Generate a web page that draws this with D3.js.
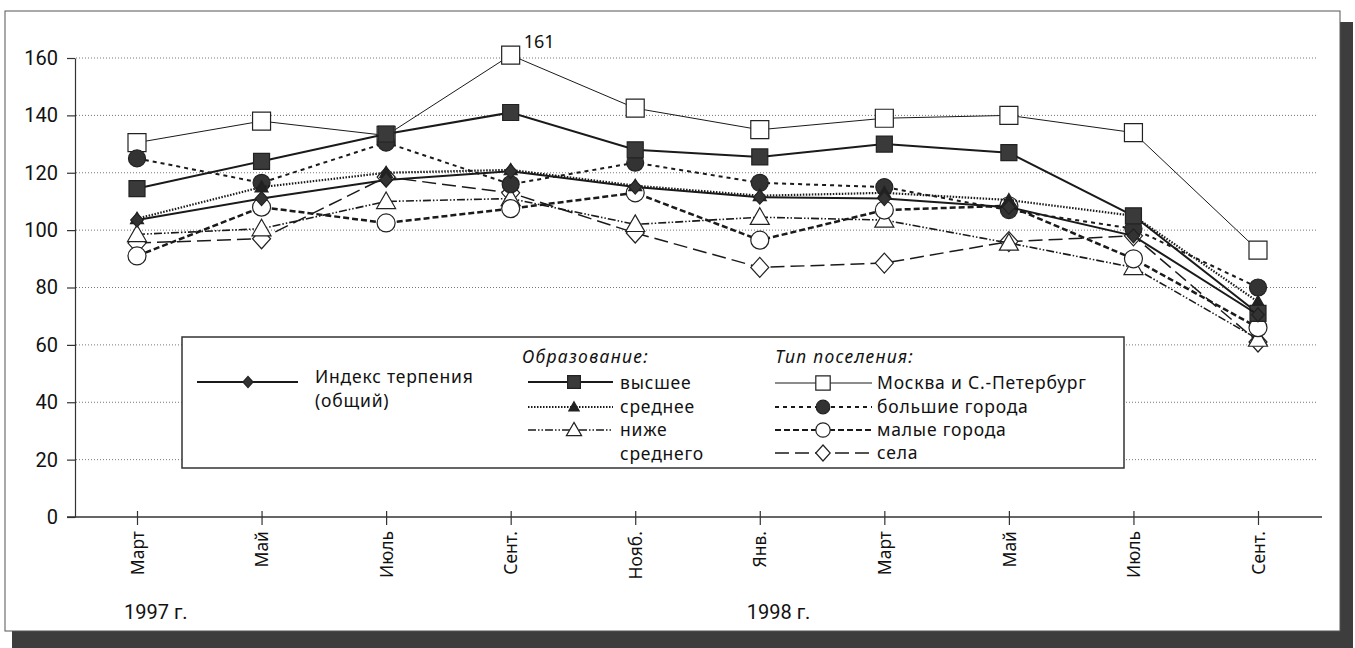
<!DOCTYPE html>
<html>
<head>
<meta charset="utf-8">
<script src="https://cdn.jsdelivr.net/npm/d3@7"></script>
<style>
  body { margin: 0; background: #fff; }
  svg { display: block; font-family: "Noto Sans", sans-serif; }
  .narrow { font-family: "Liberation Sans Narrow", "Roboto", sans-serif; }
</style>
</head>
<body>
<svg id="chart"></svg>
<script>
//// DATA

const months = ["Март", "Май", "Июль", "Сент.", "Нояб.", "Янв.", "Март", "Май", "Июль", "Сент."];
const years = [{ label: "1997 г.", at: 0 }, { label: "1998 г.", at: 5 }];
const yTicks = [0, 20, 40, 60, 80, 100, 120, 140, 160];

const indexTotal   = [103.5, 111, 117.5, 120.5, 115, 111.5, 111, 108, 98, 70.5];
const eduHigher    = [114.5, 124, 133.5, 141, 128, 125.5, 130, 127, 105, 71];
const eduSecondary = [104, 115, 120, 121, 115.5, 112, 113, 110.5, 105, 75];
const eduBelow     = [98.5, 100.5, 110, 111, 102, 104.5, 103.5, 95.5, 87, 62];
const moscowSpb    = [130.5, 138, 133, 161, 142.5, 135, 139, 140, 134, 93];
const bigCities    = [125, 116.5, 130.5, 116, 123.5, 116.5, 115, 107, 100.5, 80];
const smallTowns   = [91, 108, 102.5, 107.5, 113, 96.5, 107, 108.5, 90, 66];
const villages     = [95.5, 97, 118.5, 113, 99, 87, 88.5, 96, 98, 61];

// series styles (drawing order = bottom to top)
const series = [
    { name: "Москва и С.-Петербург", values: moscowSpb, shape: "square", size: 18, fill: "#fff", width: 1, dash: null },
    { name: "села", values: villages, shape: "diamond", size: 20, fill: "#fff", width: 1.5, dash: "14,6" },
    { name: "ниже среднего", values: eduBelow, shape: "triangle", size: 19, fill: "#fff", width: 1.6, dash: "8,2,1.5,2,1.5,2" },
    { name: "малые города", values: smallTowns, shape: "circle", size: 18, fill: "#fff", width: 2.5, dash: "6,3" },
    { name: "большие города", values: bigCities, shape: "circle", size: 17, fill: "#333", width: 2, dash: "4,4" },
    { name: "среднее", values: eduSecondary, shape: "triangle", size: 13, fill: "#222", width: 2.2, dash: "1.5,1.5" },
    { name: "высшее", values: eduHigher, shape: "square", size: 16, fill: "#3a3a3a", width: 2, dash: null },
    { name: "Индекс терпения", values: indexTotal, shape: "diamond", size: 14, fill: "#333", width: 2, dash: null },
];

//// SETTINGS

const width = 1355;
const height = 648;
const svg = d3.select("#chart").attr("width", width).attr("height", height);

const x = d3.scalePoint().domain(d3.range(months.length)).range([137, 1258]);
const y = d3.scaleLinear().domain([0, 160]).range([517, 58]);

const line = d3.line().x((d, i) => x(i)).y(d => y(d));

//// FUNCTIONS

function markerPath(shape, s) {
    const h = s / 2;
    if (shape === "square") return `M${-h},${-h}H${h}V${h}H${-h}Z`;
    if (shape === "diamond") return `M0,${-h}L${h * 0.9},0L0,${h}L${-h * 0.9},0Z`;
    if (shape === "triangle") return `M0,${-h}L${h},${h * 0.75}L${-h},${h * 0.75}Z`;
    return d3.arc()({ innerRadius: 0, outerRadius: h, startAngle: 0, endAngle: 2 * Math.PI });
}

function drawFrame() {
    // drop shadow and page frame
    svg.append("rect").attr("x", 12).attr("y", 22).attr("width", 1341).attr("height", 626).attr("fill", "#3d3d3d");
    svg.append("rect").attr("x", 5).attr("y", 11).attr("width", 1335).attr("height", 620)
        .attr("fill", "#fff").attr("stroke", "#555").attr("stroke-width", 1);
}

function drawAxes() {
    // dotted gridlines
    svg.append("g")
        .selectAll("line")
        .data(yTicks.filter(d => d > 0))
        .enter()
        .append("line")
        .attr("x1", 76).attr("x2", 1316)
        .attr("y1", d => y(d)).attr("y2", d => y(d))
        .style("stroke", "#777")
        .style("stroke-width", 1)
        .style("stroke-dasharray", "1,2");

    const yAxis = svg.append("g")
        .attr("transform", "translate(75,0)")
        .call(d3.axisLeft(y).tickValues(yTicks).tickSize(8).tickSizeOuter(0).tickPadding(9));
    yAxis.attr("font-family", null).attr("class", "narrow");
    yAxis.select(".domain").attr("stroke", "#333").attr("stroke-width", 1.2);
    yAxis.selectAll(".tick line").attr("stroke", "#333").attr("stroke-width", 1.2);
    yAxis.selectAll("text").style("font-size", "20px").attr("fill", "#111");

    // horizontal axis
    svg.append("line")
        .attr("x1", 67).attr("x2", 1322).attr("y1", y(0)).attr("y2", y(0))
        .style("stroke", "#333").style("stroke-width", 1.4);

    const xAxis = svg.append("g")
        .attr("transform", `translate(0,${y(0)})`)
        .call(d3.axisBottom(x).tickSize(0).tickFormat(i => months[i]));
    xAxis.attr("font-family", null);
    xAxis.select(".domain").remove();
    xAxis.selectAll(".tick line").attr("y1", -6).attr("y2", 8).attr("stroke", "#333").attr("stroke-width", 1.2);
    xAxis.selectAll(".tick text")
        .attr("transform", "rotate(-90)")
        .attr("x", -14).attr("y", 0).attr("dy", "0.35em")
        .style("text-anchor", "end")
        .style("font-size", "17.5px")
        .attr("fill", "#111");

    svg.append("g")
        .attr("class", "narrow")
        .selectAll("text")
        .data(years)
        .enter()
        .append("text")
        .attr("x", d => x(d.at) - 13)
        .attr("y", 619)
        .style("font-size", "20px")
        .attr("fill", "#111")
        .text(d => d.label);
}

function drawSeries() {
    series.forEach(function (s) {
        svg.append("path")
            .datum(s.values)
            .attr("d", line)
            .style("fill", "none")
            .style("stroke", "#1a1a1a")
            .style("stroke-width", s.width)
            .style("stroke-dasharray", s.dash);
        svg.append("g")
            .selectAll("path")
            .data(s.values)
            .enter()
            .append("path")
            .attr("transform", (d, i) => `translate(${x(i)},${y(d)})`)
            .attr("d", markerPath(s.shape, s.size))
            .style("fill", s.fill)
            .style("stroke", "#222")
            .style("stroke-width", 1.2);
    });

    // peak label
    svg.append("text")
        .attr("x", x(3) + 13).attr("y", y(161) - 7)
        .style("font-size", "18px").attr("fill", "#111")
        .text("161");
}

function drawLegend() {
    const legend = svg.append("g");
    legend.append("rect")
        .attr("x", 182).attr("y", 337).attr("width", 942).attr("height", 131)
        .style("fill", "#fff").style("stroke", "#333").style("stroke-width", 1.5);

    const byName = name => series.find(s => s.name === name);
    const items = [
        { name: "Индекс терпения", x1: 197, x2: 298, mx: 248, ty: 382 },
        { name: "высшее", x1: 528, x2: 613, mx: 574, ty: 382 },
        { name: "среднее", x1: 528, x2: 613, mx: 574, ty: 407 },
        { name: "ниже среднего", x1: 528, x2: 613, mx: 574, ty: 430 },
        { name: "Москва и С.-Петербург", x1: 775, x2: 872, mx: 823, ty: 383 },
        { name: "большие города", x1: 775, x2: 872, mx: 823, ty: 407 },
        { name: "малые города", x1: 775, x2: 872, mx: 823, ty: 430 },
        { name: "села", x1: 775, x2: 872, mx: 823, ty: 453 },
    ];
    items.forEach(function (it) {
        const s = byName(it.name);
        legend.append("line")
            .attr("x1", it.x1).attr("x2", it.x2).attr("y1", it.ty).attr("y2", it.ty)
            .style("stroke", "#1a1a1a").style("stroke-width", Math.min(s.width, 2))
            .style("stroke-dasharray", s.dash);
        legend.append("path")
            .attr("transform", `translate(${it.mx},${it.ty})`)
            .attr("d", markerPath(s.shape, s.size * 0.8))
            .style("fill", s.fill).style("stroke", "#222").style("stroke-width", 1.2);
    });

    // two-line labels are one text each, with a tspan per line
    const labels = [
        { t: ["Индекс терпения", "(общий)"], x: 315, y: 377 },
        { t: ["высшее"], x: 620, y: 383 },
        { t: ["среднее"], x: 620, y: 407 },
        { t: ["ниже", "среднего"], x: 620, y: 430 },
        { t: ["Москва и С.-Петербург"], x: 877, y: 383 },
        { t: ["большие города"], x: 877, y: 407 },
        { t: ["малые города"], x: 877, y: 430 },
        { t: ["села"], x: 877, y: 453 },
        { t: ["Образование:"], x: 522, y: 357, italic: true },
        { t: ["Тип поселения:"], x: 775, y: 357, italic: true },
    ];
    legend.selectAll("text")
        .data(labels)
        .enter()
        .append("text")
        .attr("x", d => d.x).attr("y", d => d.y)
        .style("font-size", "17.5px")
        .style("letter-spacing", d => d.italic ? "1.3px" : "0.8px")
        .style("font-style", d => d.italic ? "italic" : null)
        .attr("fill", "#111")
        .each(function (d) {
            const t = d3.select(this);
            d.t.forEach(function (part, i) {
                t.append("tspan")
                    .attr("x", d.x)
                    .attr("dy", i === 0 ? "0.35em" : "24")
                    .text(part);
            });
        });
}

//// FUNCTION CALLS
drawFrame();
drawAxes();
drawSeries();
drawLegend();
</script>
</body>
</html>
